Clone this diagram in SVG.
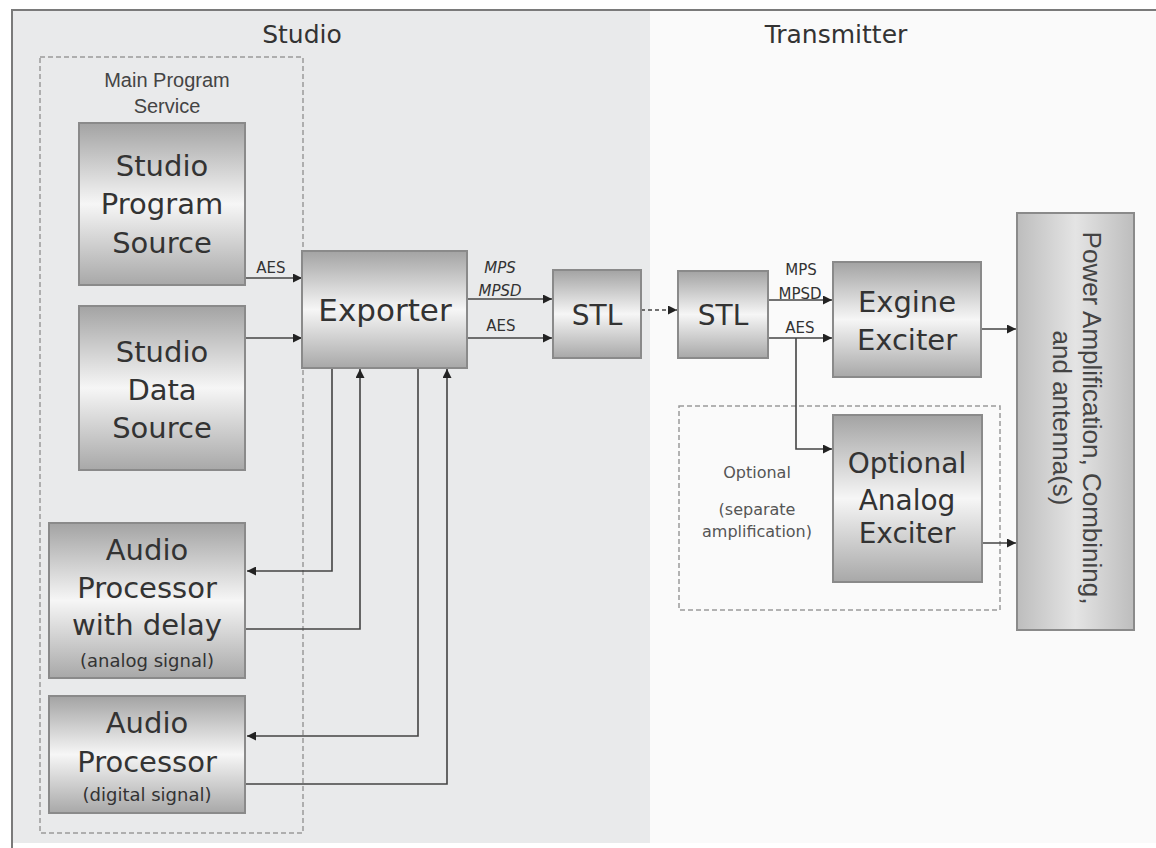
<svg xmlns="http://www.w3.org/2000/svg" width="1156" height="848" viewBox="0 0 1156 848">
  <style>
    .box { stroke: #8a8a8a; stroke-width: 2; fill: url(#boxGrad); }
    .lbl { font-family: "DejaVu Sans", sans-serif; fill: #333; text-anchor: middle; }
    .big { font-size: 29px; }
    .small { font-size: 18px; }
    .note { font-family: "DejaVu Sans", sans-serif; font-size: 16px; fill: #555; text-anchor: middle; }
    .edge { font-family: "DejaVu Sans", sans-serif; font-size: 15px; fill: #333; text-anchor: middle; }
    .ital { font-style: italic; }
    .head { font-family: "DejaVu Sans", sans-serif; font-size: 25px; fill: #333; text-anchor: middle; }
    .arial { font-family: "Liberation Sans", Arial, sans-serif; fill: #444; text-anchor: middle; }
    .group { fill: none; stroke: #9a9a9a; stroke-width: 1.5; stroke-dasharray: 5 3; }
    .wire { fill: none; stroke: #444; stroke-width: 1.6; }
    .wire.arr { marker-end: url(#arrow); }
  </style>
  <defs>
    <linearGradient id="boxGrad" x1="0" y1="0" x2="0" y2="1">
      <stop offset="0" stop-color="#a3a3a3"/>
      <stop offset="0.5" stop-color="#f6f6f6"/>
      <stop offset="1" stop-color="#a8a8a8"/>
    </linearGradient>
    <linearGradient id="powerGrad" x1="0" y1="0" x2="1" y2="0">
      <stop offset="0" stop-color="#bdbdbd"/>
      <stop offset="0.5" stop-color="#e4e4e4"/>
      <stop offset="1" stop-color="#bdbdbd"/>
    </linearGradient>
    <marker id="arrow" viewBox="0 0 10 10" refX="10" refY="5" markerWidth="11" markerHeight="9" markerUnits="userSpaceOnUse" orient="auto">
      <path d="M0,0 L10,5 L0,10 z" fill="#222"/>
    </marker>
  </defs>

  <!-- page background and the two zones -->
  <rect x="0" y="0" width="1156" height="848" fill="#ffffff"/>
  <rect x="13" y="11" width="637" height="832" fill="#e9eaeb"/>
  <rect x="650" y="11" width="506" height="832" fill="#fafafa"/>
  <path d="M12,848 V10 H1156" fill="none" stroke="#7a7a7a" stroke-width="2"/>

  <text class="head" x="302" y="43">Studio</text>
  <text class="head" x="836" y="43">Transmitter</text>

  <!-- grouping frames -->
  <g id="main-program-service">
    <rect class="group" x="40" y="57" width="263" height="776"/>
    <text class="arial" font-size="20" x="167" y="87">Main Program</text>
    <text class="arial" font-size="20" x="167" y="113">Service</text>
  </g>
  <g id="optional-group">
    <rect class="group" x="679" y="406" width="321" height="204"/>
    <text class="note" x="757" y="478">Optional</text>
    <text class="note" x="757" y="515">(separate</text>
    <text class="note" x="757" y="537">amplification)</text>
  </g>

  <!-- connectors -->
  <g id="connectors">
    <line class="wire arr" x1="246" y1="278" x2="302" y2="278"/>
    <line class="wire arr" x1="245" y1="338" x2="302" y2="338"/>
    <line class="wire arr" x1="467" y1="299" x2="552" y2="299"/>
    <line class="wire arr" x1="467" y1="338" x2="552" y2="338"/>
    <line class="wire arr" x1="641" y1="310" x2="677" y2="310" stroke-dasharray="4 3"/>
    <line class="wire arr" x1="768" y1="300" x2="832" y2="300"/>
    <line class="wire arr" x1="768" y1="338" x2="832" y2="338"/>
    <polyline class="wire arr" points="796,338 796,449 832,449"/>
    <line class="wire arr" x1="981" y1="329" x2="1016" y2="329"/>
    <line class="wire arr" x1="982" y1="543" x2="1016" y2="543"/>
    <!-- exporter to / from the audio processors -->
    <polyline class="wire arr" points="332,368 332,571 247,571"/>
    <polyline class="wire arr" points="246,629 360,629 360,369"/>
    <polyline class="wire arr" points="418,368 418,736 247,736"/>
    <polyline class="wire arr" points="246,784 447,784 447,369"/>

    <text class="edge" x="271" y="273">AES</text>
    <text class="edge ital" x="500" y="273">MPS</text>
    <text class="edge ital" x="500" y="296">MPSD</text>
    <text class="edge" x="501" y="331">AES</text>
    <text class="edge" x="801" y="275">MPS</text>
    <text class="edge" x="800" y="299">MPSD</text>
    <text class="edge" x="800" y="333">AES</text>
  </g>

  <!-- nodes -->
  <g id="studio-program-source">
    <rect class="box" x="79" y="123" width="166" height="162"/>
    <text class="lbl big" x="162" y="176">Studio</text>
    <text class="lbl big" x="162" y="214">Program</text>
    <text class="lbl big" x="162" y="253">Source</text>
  </g>
  <g id="studio-data-source">
    <rect class="box" x="79" y="306" width="166" height="164"/>
    <text class="lbl big" x="162" y="362">Studio</text>
    <text class="lbl big" x="162" y="400">Data</text>
    <text class="lbl big" x="162" y="438">Source</text>
  </g>
  <g id="audio-processor-delay">
    <rect class="box" x="49" y="523" width="196" height="155"/>
    <text class="lbl big" x="147" y="560">Audio</text>
    <text class="lbl big" x="147" y="598">Processor</text>
    <text class="lbl big" x="147" y="635">with delay</text>
    <text class="lbl small" x="147" y="667">(analog signal)</text>
  </g>
  <g id="audio-processor-digital">
    <rect class="box" x="49" y="696" width="196" height="117"/>
    <text class="lbl big" x="147" y="733">Audio</text>
    <text class="lbl big" x="147" y="772">Processor</text>
    <text class="lbl small" x="147" y="801">(digital signal)</text>
  </g>
  <g id="exporter">
    <rect class="box" x="302" y="251" width="165" height="117"/>
    <text class="lbl" font-size="31" x="385" y="321">Exporter</text>
  </g>
  <g id="stl-studio">
    <rect class="box" x="553" y="270" width="88" height="88"/>
    <text class="lbl" font-size="28" x="597" y="325">STL</text>
  </g>
  <g id="stl-transmitter">
    <rect class="box" x="678" y="271" width="90" height="87"/>
    <text class="lbl" font-size="28" x="723" y="325">STL</text>
  </g>
  <g id="exgine-exciter">
    <rect class="box" x="833" y="262" width="148" height="115"/>
    <text class="lbl big" x="907" y="312">Exgine</text>
    <text class="lbl big" x="907" y="350">Exciter</text>
  </g>
  <g id="optional-analog-exciter">
    <rect class="box" x="833" y="415" width="149" height="167"/>
    <text class="lbl" font-size="28" x="907" y="473">Optional</text>
    <text class="lbl" font-size="28" x="907" y="510">Analog</text>
    <text class="lbl" font-size="28" x="907" y="543">Exciter</text>
  </g>
  <g id="power-amplification">
    <rect x="1017" y="213" width="117" height="417" fill="url(#powerGrad)" stroke="#8a8a8a" stroke-width="2"/>
    <text class="arial" font-size="26" transform="translate(1083,418) rotate(90)">Power Amplification, Combining,</text>
    <text class="arial" font-size="26" transform="translate(1053,418) rotate(90)">and antenna(s)</text>
  </g>
</svg>
